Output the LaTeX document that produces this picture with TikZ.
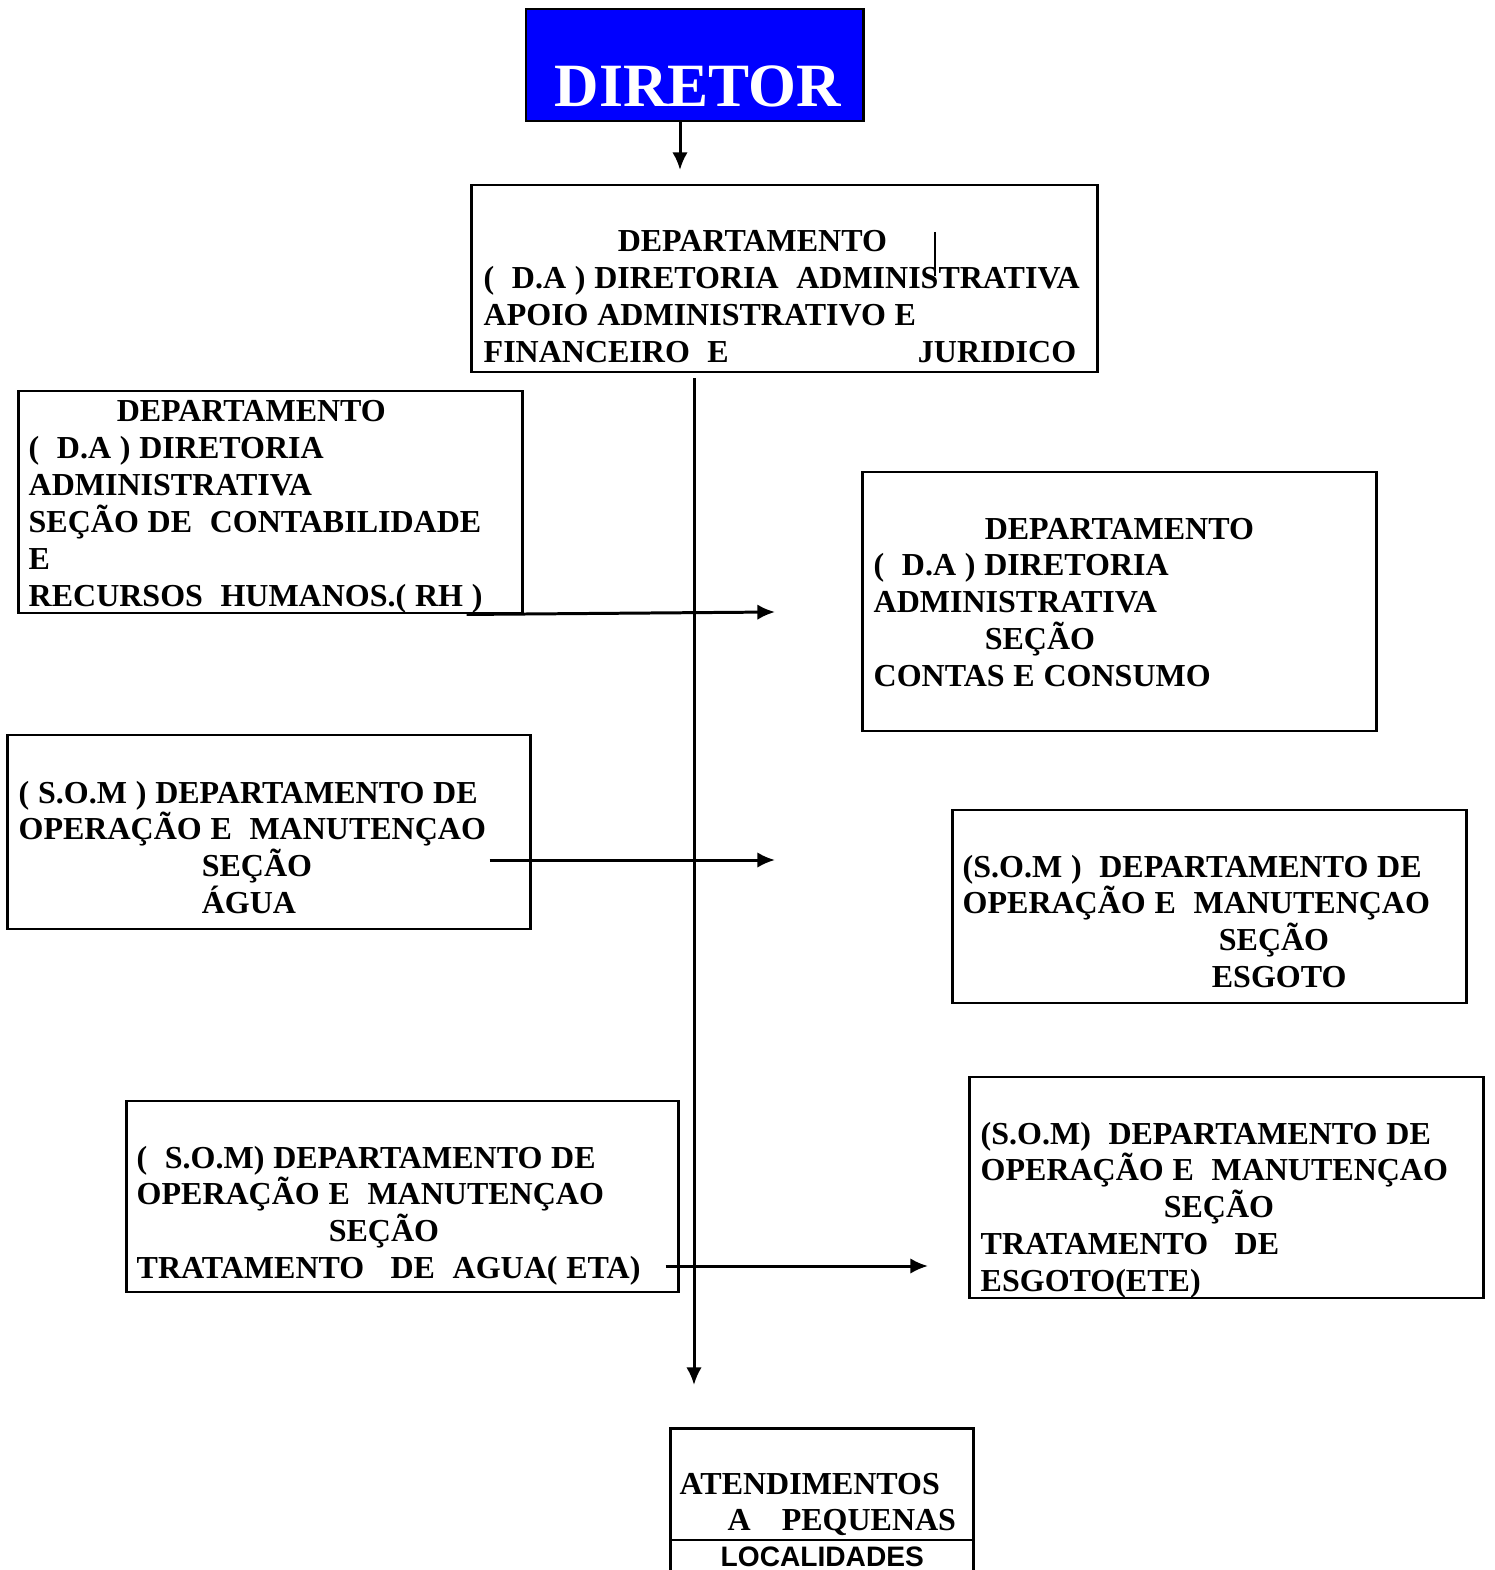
\documentclass[tikz,border=0pt]{standalone}
\usepackage{fontspec}
\setmainfont{Liberation Serif}
\newfontfamily\arialfont{Liberation Sans}
\usepackage{tikz}
\usetikzlibrary{arrows.meta, positioning, calc}
\definecolor{DirBlue}{RGB}{0, 0, 255}
\tikzset{
    box/.style={rectangle, draw, line width=0.8pt, inner sep=0pt},
    txt/.style={font=\bfseries\fontsize{9.1}{10.47}\selectfont, execute at begin node={\spaceskip=2.5pt\relax\xspaceskip=2.5pt\relax}, align=left, inner sep=0pt, anchor=base west, text width=#1},
    txt/.default=8cm,
    arrow/.style={-{Latex[length=5pt, width=4.4pt]}, line width=0.85pt}
}

\begin{document}
\begin{tikzpicture}[x=0.01cm, y=-0.01cm]
            \useasboundingbox (0,0) rectangle (1494,1570);
            \clip (0,0) rectangle (1494,1570);

            \node[box, fill=DirBlue, minimum width=3.37cm, minimum height=1.12cm] (diretor) at (694.5, 65) {};
            \node[font=\bfseries\fontsize{17.5}{17.5}\selectfont, text=white, anchor=base, inner sep=0pt] (diretortxt) at (698, 107) {DIRETOR};

            \node[box, minimum width=6.25cm, minimum height=1.87cm] (apoio) at (784.5, 278.5) {};
            \node[txt] (apoiotxt) at (483, 252) {\hspace*{1.34cm}DEPARTAMENTO\\(\ \ D.A ) DIRETORIA\ \ ADMINISTRATIVA\\APOIO ADMINISTRATIVO E\\\makebox[4.34cm][l]{FINANCEIRO\ \ E}JURIDICO};
            \draw[line width=0.4pt] (935, 232) -- (935, 276);

            \node[box, minimum width=5.03cm, minimum height=2.22cm] (contab) at (270.5, 502) {};
            \node[txt] (contabtxt) at (28, 422) {\hspace*{0.88cm}DEPARTAMENTO\\(\ \ D.A ) DIRETORIA\\ADMINISTRATIVA\\SEÇÃO DE\ \ CONTABILIDADE\\E\\RECURSOS\ \ HUMANOS.( RH )};

            \node[box, minimum width=5.13cm, minimum height=2.59cm] (contas) at (1119.5, 601.5) {};
            \node[txt] (contastxt) at (873, 539) {\hspace*{1.11cm}DEPARTAMENTO\\(\ \ D.A ) DIRETORIA\\ADMINISTRATIVA\\\hspace*{1.11cm}SEÇÃO\\CONTAS E CONSUMO};

            \node[box, minimum width=5.22cm, minimum height=1.94cm] (agua) at (269, 832) {};
            \node[txt] (aguatxt) at (18, 803) {( S.O.M ) DEPARTAMENTO DE\\OPERAÇÃO E\ \ MANUTENÇAO\\\hspace*{1.83cm}SEÇÃO\\\hspace*{1.83cm}ÁGUA};

            \node[box, minimum width=5.13cm, minimum height=1.93cm] (esgoto) at (1209.5, 906.5) {};
            \node[txt] (esgototxt) at (962, 877) {(S.O.M )\ \ DEPARTAMENTO DE\\OPERAÇÃO E\ \ MANUTENÇAO\\\hspace*{2.56cm}SEÇÃO\\\hspace*{2.49cm}ESGOTO};

            \node[box, minimum width=5.51cm, minimum height=1.91cm] (eta) at (402.5, 1196.5) {};
            \node[txt] (etatxt) at (136, 1168) {(\ \ S.O.M) DEPARTAMENTO DE\\OPERAÇÃO E\ \ MANUTENÇAO\\\hspace*{1.92cm}SEÇÃO\\TRATAMENTO\ \ \ DE\ \ AGUA( ETA)};

            \node[box, minimum width=5.13cm, minimum height=2.21cm] (ete) at (1226.5, 1187.5) {};
            \node[txt] (etetxt) at (980, 1144) {(S.O.M)\ \ DEPARTAMENTO DE\\OPERAÇÃO E\ \ MANUTENÇAO\\\hspace*{1.83cm}SEÇÃO\\TRATAMENTO\ \ \ DE\\ESGOTO(ETE)};

            \node[box, minimum width=3.03cm, minimum height=1.8cm, anchor=north west] (atend) at (669, 1427) {};
            \draw[line width=0.8pt] ([yshift=-1.13cm]atend.north west) -- ([yshift=-1.13cm]atend.north east);
            \node[txt] (atendtxt) at (679, 1494) {ATENDIMENTOS\\\hspace*{0.48cm}\makebox[0.54cm][l]{A}PEQUENAS};
            \node[font=\arialfont\bfseries\fontsize{8}{8}\selectfont, anchor=base west, inner sep=0pt] (localtxt) at (720, 1566) {LOCALIDADES};

            \coordinate (dtip) at (680, 170);
            \coordinate (trunktip) at (694, 1385);
            \coordinate (tip1) at (775, 612);
            \coordinate (tip2) at (775, 860);
            \coordinate (tip3) at (928, 1266);

            \draw[arrow] (diretor.south -| dtip) -- (dtip);
            \draw[arrow, shorten <=0.05cm] (apoio.south -| trunktip) -- (trunktip);
            \draw[arrow] ([xshift=-0.57cm]contab.south east) -- (tip1);
            \draw[arrow] ([xshift=-0.42cm]agua.east |- tip2) -- (tip2);
            \draw[arrow] ([xshift=-0.14cm]eta.east |- tip3) -- (tip3);
\end{tikzpicture}
\end{document}
